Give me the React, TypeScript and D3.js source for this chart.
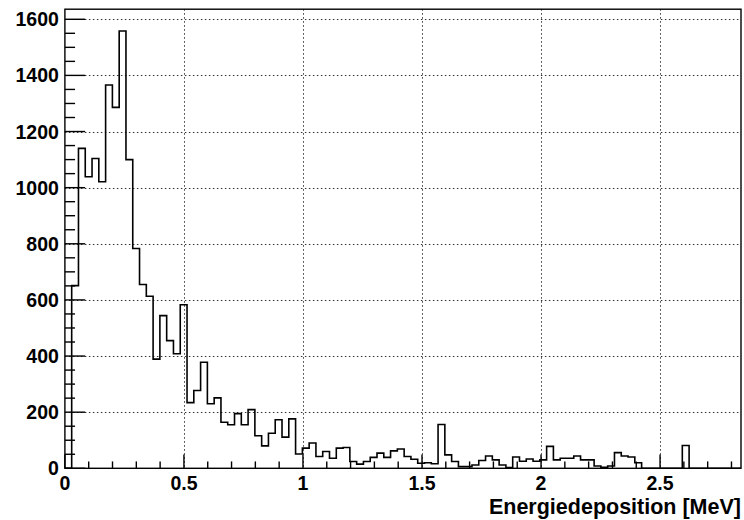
import React from "react";
import * as d3 from "d3";

// Histogram: 100 bins from 0 to 2.85 MeV
const binWidth = 0.0285;
const counts: number[] = [
  0, 651, 1140, 1039, 1104, 1021, 1366, 1286, 1558, 1100,
  783, 655, 613, 389, 544, 455, 408, 583, 234, 277,
  378, 230, 251, 164, 155, 195, 155, 209, 116, 80,
  125, 173, 111, 176, 51, 72, 90, 42, 60, 36,
  72, 74, 24, 15, 24, 39, 54, 39, 62, 69,
  42, 32, 18, 20, 16, 156, 48, 24, 6, 6,
  12, 28, 44, 30, 12, 3, 40, 25, 33, 25,
  30, 78, 30, 36, 36, 44, 30, 30, 8, 4,
  8, 56, 44, 40, 20, 0, 0, 0, 0, 0,
  0, 81, 0, 0, 0, 0, 0, 0, 0, 0,
];

const xMajorTicks = [0, 0.5, 1, 1.5, 2, 2.5];
const xTickLabels = ["0", "0.5", "1", "1.5", "2", "2.5"];
const xMinorStep = 0.1;
const yMajorTicks = [0, 200, 400, 600, 800, 1000, 1200, 1400, 1600];
const yMinorStep = 50;
const xTitle = "Energiedeposition [MeV]";

const W = 744;
const H = 520;
const left = 64.9;
const right = 741;
const top = 9.2;
const bottom = 468.3;

export default function App() {
  const yMax = 1.05 * (d3.max(counts) as number);
  const x = d3.scaleLinear().domain([0, 2.84]).range([left, right]);
  const y = d3.scaleLinear().domain([0, yMax]).range([bottom, top]);

  const pts: [number, number][] = counts.map((c, i) => [i * binWidth, c]);
  pts.push([counts.length * binWidth, 0]);
  const line = d3
    .line<[number, number]>()
    .x((d) => x(d[0]))
    .y((d) => y(d[1]))
    .curve(d3.curveStepAfter);
  const path =
    `M${x(0)},${y(0)}` + (line(pts) as string).replace(/^M/, "L");

  const xMinor = d3.range(0, 2.84 + 1e-9, xMinorStep).filter(
    (v) => !xMajorTicks.some((m) => Math.abs(m - v) < 1e-6)
  );
  const yMinor = d3.range(0, yMax, yMinorStep).filter((v) => v % 200 !== 0);

  const font = "'Liberation Sans', Arial, Helvetica, sans-serif";
  const yTickLen = 0.03 * (right - left);
  const xTickLen = 0.03 * (bottom - top);

  return (
    <div style={{ position: "fixed", left: 0, top: 0, width: W, height: H, background: "#fff" }}>
      <svg width={W} height={H} style={{ display: "block" }}>
        <rect x={0} y={0} width={W} height={H} fill="#fff" />
        <defs>
          <clipPath id="frameClip">
            <rect x={left} y={top} width={right - left} height={bottom - top} />
          </clipPath>
        </defs>
        {/* grid */}
        <g stroke="#333" strokeWidth={1} strokeDasharray="1.5,2.5">
          {yMajorTicks.filter((v) => v > 0).map((v) => (
            <line key={"gy" + v} x1={left} x2={right} y1={Math.round(y(v)) + 0.5} y2={Math.round(y(v)) + 0.5} />
          ))}
          {xMajorTicks.filter((v) => v > 0).map((v) => (
            <line key={"gx" + v} x1={Math.round(x(v)) + 0.5} x2={Math.round(x(v)) + 0.5} y1={top} y2={bottom} />
          ))}
        </g>
        {/* histogram */}
        <path d={path} fill="none" stroke="#000" strokeWidth={1.6} clipPath="url(#frameClip)" />
        {/* ticks */}
        <g stroke="#000" strokeWidth={1.4}>
          {yMajorTicks.map((v) => (
            <line key={"ty" + v} x1={left} x2={left + yTickLen} y1={y(v)} y2={y(v)} />
          ))}
          {yMinor.map((v) => (
            <line key={"tym" + v} x1={left} x2={left + yTickLen / 2} y1={y(v)} y2={y(v)} />
          ))}
          {xMajorTicks.map((v) => (
            <line key={"tx" + v} x1={x(v)} x2={x(v)} y1={bottom} y2={bottom - xTickLen} />
          ))}
          {xMinor.map((v) => (
            <line key={"txm" + v.toFixed(2)} x1={x(v)} x2={x(v)} y1={bottom} y2={bottom - xTickLen / 2} />
          ))}
        </g>
        {/* frame */}
        <rect x={left} y={top} width={right - left} height={bottom - top} fill="none" stroke="#000" strokeWidth={1.4} />
        {/* labels */}
        <g fontFamily={font} fontWeight="bold" fontSize={19.5} fill="#000">
          {yMajorTicks.map((v) => (
            <text key={"ly" + v} x={left - 6} y={y(v) + 7} textAnchor="end">
              {String(v)}
            </text>
          ))}
          {xMajorTicks.map((v, i) => (
            <text key={"lx" + v} x={x(v)} y={490} textAnchor="middle">
              {xTickLabels[i]}
            </text>
          ))}
          <text x={right} y={514} textAnchor="end" fontSize={21.5}>
            {xTitle}
          </text>
        </g>
      </svg>
    </div>
  );
}
